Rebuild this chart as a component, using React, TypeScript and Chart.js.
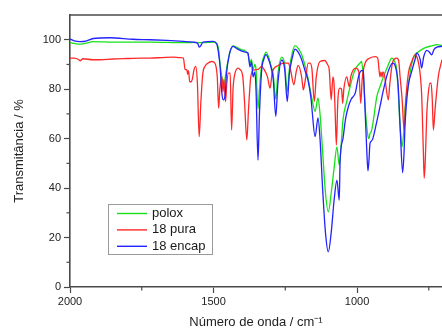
import React, { useEffect, useRef } from 'react';
import { Chart, registerables } from 'chart.js';

Chart.register(...registerables);

// ---- Data (wavenumber / cm-1, transmittance / %) ----
const poloxWn = [2000, 1985, 1965, 1945, 1919, 1880, 1840, 1780, 1720, 1663, 1600, 1560, 1547, 1520, 1500, 1489, 1483, 1477, 1470, 1465, 1460, 1455, 1445, 1432, 1420, 1404, 1390, 1380, 1373, 1368, 1362, 1356, 1352, 1345, 1340, 1332, 1325, 1317, 1308, 1300, 1292, 1283, 1276, 1262, 1252, 1243, 1236, 1225, 1216, 1205, 1193, 1180, 1170, 1157, 1146, 1136, 1129, 1120, 1110, 1100, 1090, 1080, 1070, 1062, 1055, 1049, 1036, 1024, 1013, 1001, 990, 984, 978, 970, 962, 958, 955, 950, 945, 931, 920, 908, 892, 879, 870, 862, 857, 850, 843, 838, 833, 822, 810, 798, 792, 775, 757, 740, 722, 704];
const poloxT = [98.9, 98.5, 98.2, 98.6, 99.2, 99.1, 99.0, 99.0, 99.0, 98.9, 98.8, 98.9, 98.8, 98.9, 99.0, 98.4, 96.6, 90, 84, 80, 84, 88, 94, 97.5, 97, 96, 95.5, 94, 90.5, 92, 88, 90, 88, 72, 80, 90, 93, 95, 93, 89.5, 86, 76, 86, 93, 90, 79, 88, 95, 97.6, 96.5, 94, 89, 84, 76, 71, 76.5, 70, 55, 38, 30.4, 38, 48, 56.7, 49.3, 58, 67.6, 75, 81, 86, 89, 90.5, 91.2, 85, 70, 61, 60, 62, 63, 66, 77, 81, 85, 89.6, 92.6, 91.5, 88, 80, 65, 56.7, 62, 72, 81, 90, 94, 94.6, 96, 97, 97.5, 98, 97.7];

const puraWn = [2000, 1985, 1970, 1965, 1955, 1920, 1895, 1850, 1800, 1750, 1720, 1680, 1640, 1617, 1605, 1599, 1593, 1590, 1587, 1583, 1578, 1574, 1568, 1562, 1556, 1550, 1544, 1537, 1530, 1520, 1506, 1495, 1487, 1482, 1478, 1471, 1467, 1464, 1458, 1454, 1448, 1442, 1437, 1432, 1426, 1414, 1408, 1398, 1392, 1384, 1378, 1370, 1359, 1345, 1332, 1324, 1312, 1303, 1295, 1274, 1257, 1240, 1232, 1220, 1212, 1205, 1193, 1187, 1180, 1170, 1164, 1157, 1149, 1142, 1129, 1112, 1103, 1097, 1090, 1084, 1080, 1076, 1072, 1067, 1060, 1054, 1050, 1046, 1036, 1027, 1022, 1013, 1004, 994, 987, 982, 972, 955, 937, 928, 920, 917, 913, 910, 905, 891, 886, 876, 862, 855, 850, 843, 836, 830, 821, 810, 798, 790, 782, 775, 769, 766, 762, 757, 752, 746, 742, 738, 734, 728, 717, 704];
const puraT = [92.6, 92.6, 92.0, 91.5, 92.3, 91.9, 91.9, 92.2, 92.4, 92.6, 92.6, 92.8, 93.0, 92.8, 92.6, 88, 87.8, 86, 87.5, 83, 83, 84, 87.8, 89.2, 82, 60.8, 75, 86.6, 89.2, 90.5, 91.2, 90.5, 85, 72.3, 80, 85.1, 79, 84, 75, 82, 86.5, 86.5, 63.5, 80, 86, 88.5, 88, 85, 75, 59.5, 72, 85.1, 87.8, 88, 89.2, 88, 85, 80.4, 87, 89.6, 90.5, 90.5, 88, 81.8, 87, 89.6, 85, 79.7, 84, 90.5, 90.5, 88, 75, 85, 91.2, 91.6, 90, 88, 75.7, 85, 82, 70, 57.4, 75, 80.4, 80, 74.3, 80, 85, 81, 85, 87.8, 88.5, 87.2, 74.3, 84, 90.5, 92.6, 93.2, 92.6, 85, 87, 85, 87, 86, 75.7, 82, 91, 92.6, 91.5, 85, 76, 63.5, 76, 86.5, 91, 93.9, 92.6, 88, 78, 55, 44, 52, 70, 78, 82.4, 82.4, 76, 63.5, 72, 85, 91.9];

const encapWn = [2000, 1985, 1965, 1945, 1919, 1861, 1781, 1721, 1663, 1605, 1570, 1555, 1550, 1545, 1537, 1501, 1489, 1483, 1477, 1471, 1466, 1460, 1455, 1445, 1432, 1420, 1404, 1390, 1380, 1373, 1368, 1362, 1356, 1352, 1345, 1340, 1332, 1325, 1317, 1308, 1300, 1292, 1283, 1276, 1262, 1252, 1243, 1236, 1225, 1216, 1205, 1193, 1180, 1171, 1160, 1157, 1146, 1136, 1129, 1120, 1110, 1100, 1090, 1080, 1070, 1062, 1059, 1049, 1040, 1030, 1020, 1006, 995, 985, 978, 975, 966, 962, 958, 955, 950, 945, 931, 920, 908, 892, 875, 866, 857, 850, 841, 836, 833, 822, 810, 798, 792, 780, 775, 768, 757, 748, 740, 732, 722, 704];
const encapT = [100.3, 99.5, 99.2, 99.4, 100.5, 100.8, 100.2, 100.0, 99.7, 99.3, 99.0, 98.5, 97.0, 97.5, 99.0, 99.3, 98.4, 95, 89, 78.5, 75.7, 77, 86, 94, 97.3, 96.5, 95.5, 95, 94.7, 89, 91, 85, 87, 80, 51.3, 70, 88, 92, 94, 92, 89, 84, 69, 82, 91.8, 88, 75, 86, 93, 96.2, 95, 92, 87, 83.8, 76, 72, 60.8, 68.4, 60, 40, 22, 14.2, 22, 35, 43.2, 35.1, 51, 60, 68, 73, 76, 78.5, 85, 87.5, 87.6, 80, 55, 47, 52, 58, 59, 60, 67, 73, 79.7, 87, 90.5, 89, 82, 65, 46.2, 55, 65, 81, 87, 92, 94.6, 92, 88.5, 93, 95.7, 95, 93.9, 96, 97, 97.3];

const seriesNames = ['polox', '18 pura', '18 encap'];
const seriesColors = ['rgb(25,225,25)', 'rgb(255,40,40)', 'rgb(35,35,255)'];
const xMajorTicks = [2000, 1500, 1000];
const xMinorTicks = [1750, 1250, 750];
const yMajorTicks = [0, 20, 40, 60, 80, 100];
const yMinorTicks = [10, 30, 50, 70, 90];

const FONT = "'Liberation Sans', Arial, Helvetica, sans-serif";
const AXIS = '#4a4a4a';

const toPoints = (wn: number[], t: number[]) => wn.map((w, i) => ({ x: w, y: t[i] }));

const extrasPlugin = {
  id: 'extras',
  afterDraw(chart: any) {
    const { ctx, chartArea, scales } = chart;
    const xs = scales.x;
    const ys = scales.y;
    ctx.save();
    ctx.strokeStyle = AXIS;
    ctx.lineWidth = 1.2;
    xMinorTicks.forEach((v) => {
      const px = xs.getPixelForValue(v);
      ctx.beginPath();
      ctx.moveTo(px, chartArea.bottom);
      ctx.lineTo(px, chartArea.bottom + 3.5);
      ctx.stroke();
    });
    yMinorTicks.forEach((v) => {
      const py = ys.getPixelForValue(v);
      ctx.beginPath();
      ctx.moveTo(chartArea.left - 3.5, py);
      ctx.lineTo(chartArea.left, py);
      ctx.stroke();
    });
    ctx.lineWidth = 1.6;
    ctx.beginPath();
    ctx.moveTo(chartArea.left, chartArea.top);
    ctx.lineTo(chartArea.right + 10, chartArea.top);
    ctx.stroke();

    const bx = chartArea.left + 38;
    const by = chartArea.top + 189;
    const bw = 104;
    const bh = 50;
    ctx.fillStyle = '#ffffff';
    ctx.fillRect(bx, by, bw, bh);
    ctx.strokeStyle = '#9a9a9a';
    ctx.lineWidth = 1;
    ctx.strokeRect(bx + 0.5, by + 0.5, bw, bh);
    ctx.font = `13px ${FONT}`;
    ctx.textBaseline = 'middle';
    ctx.textAlign = 'left';
    seriesNames.forEach((name, i) => {
      const ly = by + 9.5 + i * 16.4;
      ctx.strokeStyle = seriesColors[i];
      ctx.lineWidth = 1.4;
      ctx.beginPath();
      ctx.moveTo(bx + 9, ly);
      ctx.lineTo(bx + 39, ly);
      ctx.stroke();
      ctx.fillStyle = '#1a1a1a';
      ctx.fillText(name, bx + 44, ly);
    });
    ctx.restore();
  },
};

export default function App() {
  const canvasRef = useRef<HTMLCanvasElement | null>(null);

  useEffect(() => {
    document.documentElement.style.overflow = 'hidden';
    document.body.style.overflow = 'hidden';
    const canvas = canvasRef.current;
    if (!canvas) return;
    const datasets = [
      { label: seriesNames[0], data: toPoints(poloxWn, poloxT), borderColor: seriesColors[0], order: 3 },
      { label: seriesNames[1], data: toPoints(puraWn, puraT), borderColor: seriesColors[1], order: 2 },
      { label: seriesNames[2], data: toPoints(encapWn, encapT), borderColor: seriesColors[2], order: 1 },
    ].map((d) => ({
      ...d,
      borderWidth: 1.3,
      pointRadius: 0,
      fill: false,
      cubicInterpolationMode: 'monotone' as const,
    }));

    const chart = new Chart(canvas, {
      type: 'line',
      data: { datasets },
      options: {
        animation: false,
        responsive: false,
        maintainAspectRatio: false,
        devicePixelRatio: 1,
        parsing: false as any,
        layout: { padding: { top: 7, right: 0, left: 0, bottom: 0 } },
        plugins: { legend: { display: false }, tooltip: { enabled: false } },
        scales: {
          x: {
            type: 'linear',
            reverse: true,
            min: 704,
            max: 2000,
            afterBuildTicks: (scale: any) => {
              scale.ticks = xMajorTicks.map((v) => ({ value: v }));
            },
            afterFit: (scale: any) => {
              scale.height = 44;
              scale.paddingLeft = 0;
              scale.paddingRight = 0;
            },
            ticks: {
              font: { family: FONT, size: 11 },
              color: '#222',
              padding: 2,
              maxRotation: 0,
              autoSkip: false,
              callback: (v: any) => String(v),
            },
            grid: { drawOnChartArea: false, drawTicks: true, tickLength: 6, tickColor: AXIS, tickWidth: 1.2 },
            border: { display: true, color: AXIS, width: 1.6 },
            title: {
              display: true,
              text: 'Número de onda / cm⁻¹',
              font: { family: FONT, size: 13 },
              color: '#222',
              padding: { top: 4, bottom: 1 },
            },
          },
          y: {
            type: 'linear',
            min: 0,
            max: 110,
            afterBuildTicks: (scale: any) => {
              scale.ticks = yMajorTicks.map((v) => ({ value: v }));
            },
            afterFit: (scale: any) => {
              scale.width = 62;
              scale.paddingTop = 0;
            },
            ticks: {
              font: { family: FONT, size: 11 },
              color: '#222',
              padding: 3,
              autoSkip: false,
              callback: (v: any) => String(v),
            },
            grid: { drawOnChartArea: false, drawTicks: true, tickLength: 6, tickColor: AXIS, tickWidth: 1.2 },
            border: { display: true, color: AXIS, width: 1.6 },
            title: {
              display: true,
              text: 'Transmitância / %',
              font: { family: FONT, size: 13 },
              color: '#222',
              padding: { top: 4, bottom: 4 },
            },
          },
        },
      },
      plugins: [extrasPlugin],
    });
    return () => chart.destroy();
  }, []);

  return (
    <div style={{ position: 'fixed', left: 8, top: 8, width: 434, height: 323, overflow: 'hidden' }}>
      <canvas ref={canvasRef} width={434} height={323} style={{ display: 'block' }} />
    </div>
  );
}
